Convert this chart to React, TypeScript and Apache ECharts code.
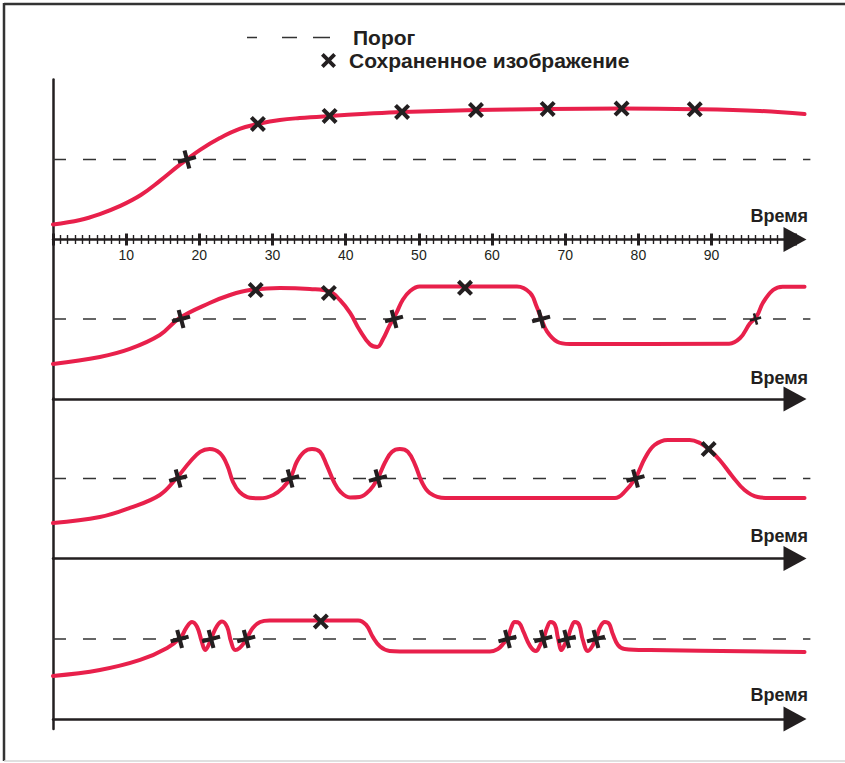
import React, { useEffect, useRef } from 'react';
import * as echarts from 'echarts';

// ---- data ----
const THRESHOLD = 50;
const THRESHOLD_SPAN = [0, 103.5];
const TIME_MIN = 0;
const TIME_MAX = 101.4; // end of the drawn time axis (arrow)
const TIME_DATA_MAX = 103.72; // curves run slightly past the arrow
const TIME_STEP = 10;

const SIGNAL_1 = [
  [0, 9.4], [3.7, 12.2], [6.4, 15.9], [9.2, 21], [12, 27.8], [14.6, 36.6], [17.3, 46.6],
  [20.1, 56], [22.8, 63.4], [25.5, 69.1], [28.3, 72.5], [31, 74.7], [33.7, 75.9],
  [37.8, 77.2], [42.8, 78.6], [47.7, 79.7], [57.8, 80.9], [67.6, 81.6], [77.7, 81.8],
  [87.7, 81.4], [96.6, 80.3], [102.7, 78.4],
];
const CROSS_1 = [[18.3, 50]];
const SAVED_1 = [[28, 72.2], [37.8, 77.2], [47.7, 79.7], [57.8, 80.9], [67.6, 81.6], [77.7, 81.8], [87.7, 81.4]];

const SIGNAL_2 = [
  [0, 21.9], [6.4, 26.3], [10.5, 31.3], [14.6, 40], [17.3, 50.6], [21.4, 60], [24.2, 65],
  [26.9, 68.1], [31, 69.4], [35.1, 68.8], [37.8, 67.3], [39.2, 61.9], [40.6, 53.8],
  [41.9, 43.1], [43.3, 34.2], [44.3, 32.5], [45.1, 37.5], [46, 46], [46.9, 53.5],
  [47.8, 62], [48.8, 67.5], [50.1, 70.3], [63.4, 70.3], [65.2, 66.3], [66.1, 57.7],
  [66.7, 50.6], [67.5, 42.3], [68.9, 35.8], [70.6, 34.4], [92.4, 34.6], [93.9, 38.1],
  [95.2, 47], [96.2, 52], [97, 60], [98.4, 68.1], [99.7, 70.2], [102.7, 70.2],
];
const CROSS_2 = [[17.5, 50], [46.6, 50], [66.7, 50]];
const CROSS_2_LATE = [[96, 50]];
const SAVED_2 = [[27.7, 68.1], [37.7, 66.3], [56.3, 69.5]];

const SIGNAL_3 = [
  [0, 22.2], [6.4, 25.9], [10.5, 31.6], [14.6, 39.7], [16.9, 50.3], [18.7, 60.3],
  [20.1, 66.6], [21.4, 68.4], [22.8, 65.9], [23.8, 58.4], [24.6, 47.8], [25.5, 41.6],
  [26.9, 38], [28.3, 37.6], [30.1, 39.7], [31.4, 44.1], [32.5, 50.9], [33.3, 60.3],
  [34.3, 66.6], [35.4, 68.4], [36.5, 66.6], [37.4, 58.4], [38.4, 47.8], [39.3, 41.6],
  [40.6, 38.1], [41.9, 38.4], [43.3, 42.8], [44.4, 50.3], [45.4, 60.3], [46.3, 66.6],
  [47.4, 68.4], [48.5, 66.6], [49.5, 58.4], [50.4, 47.8], [51.5, 40.9], [53.6, 37.8],
  [76.8, 37.8], [78.1, 41.6], [79.6, 50.3], [80.9, 62.8], [82.2, 70.9], [84, 74.1],
  [87, 74.1], [88.4, 72.2], [89.6, 68.4], [91.1, 61.6], [92.8, 51.6], [94.5, 42.8],
  [96.3, 38.4], [98, 37.8], [102.7, 37.8],
];
const CROSS_3 = [[17.1, 50], [32.4, 50], [44.4, 50], [79.6, 50]];
const SAVED_3 = [[89.6, 68.4]];

const SIGNAL_4 = [
  [0, 26.9], [6.4, 30.6], [11.9, 36.9], [15.6, 44.4], [17.5, 51.3], [18.2, 56.9],
  [19, 60.6], [19.7, 57.5], [20.3, 48.8], [20.8, 43.1], [21.2, 45.6], [21.7, 51.3],
  [22.4, 58.1], [23.1, 60.9], [23.8, 57.5], [24.3, 48.8], [24.9, 43.1], [25.5, 44.4],
  [26.1, 47.5], [26.6, 51.3], [27.3, 56.9], [28.3, 60.6], [29.6, 61.6], [41.7, 61.6],
  [42.8, 58.8], [43.7, 51.3], [44.7, 45.3], [46, 42.5], [47.4, 42.2], [59.7, 42.2],
  [60.8, 43.8], [61.5, 46.9], [62.2, 51.3], [62.6, 56.9], [63.1, 60.6], [63.7, 60],
  [64.3, 54.4], [65.2, 45.6], [66, 42.5], [66.5, 45.6], [67.1, 51.3], [67.5, 56.9],
  [68, 60.6], [68.6, 58.8], [69, 50.6], [69.5, 43.1], [69.9, 46.3], [70.4, 51.3],
  [70.8, 56.9], [71.3, 60.6], [71.9, 58.8], [72.4, 49.4], [73.1, 42.5], [73.8, 46.3],
  [74.3, 51.3], [74.7, 56.9], [75.4, 60.6], [76, 59.4], [76.5, 53.1], [77.2, 46.3],
  [78.1, 43.8], [81.6, 43.1], [102.7, 41.9],
];
const CROSS_4 = [[17.3, 50], [21.6, 50], [26.4, 50], [62.1, 50], [67, 50], [70.2, 50], [74.2, 50]];
const SAVED_4 = [[36.6, 61]];

const SIGNALS = [SIGNAL_1, SIGNAL_2, SIGNAL_3, SIGNAL_4];
const CROSSES = [CROSS_1, CROSS_2, CROSS_3, CROSS_4];
const SMALL_CROSSES = [[], CROSS_2_LATE, [], []];
const SAVED = [SAVED_1, SAVED_2, SAVED_3, SAVED_4];

const AXIS_NAME = 'Время';
const THRESHOLD_NAME = 'Порог';
const SAVED_NAME = 'Сохраненное изображение';

// ---- styling / layout ----
const FONT = "'Liberation Sans', Arial, Helvetica, sans-serif";
const INK = '#231f20';
const RED = '#e8204b';
const X_PATH = 'path://M1.8,0L5,3.2L8.2,0L10,1.8L6.8,5L10,8.2L8.2,10L5,6.8L1.8,10L0,8.2L3.2,5L0,1.8Z';
const DASH_PATH = 'path://M0,0h10v1.4h-10zM35,0h15v1.4h-15zM66,0h17v1.4h-17z';

const GRID_LEFT = 53;
const AXIS_RIGHT = 50;
const DATA_RIGHT = 33;
const GRID_TOPS = [79.5, 239, 398.5, 559];
const GRID_HEIGHTS = [160, 160, 160, 170];
const Y_MINS = [0, 0, 0, -6.25];
const NAME_PAD = [15, 12, 13.5, 15];
const N = GRID_TOPS.length;

function buildOption() {
  const grid = [
    ...GRID_TOPS.map((top, i) => ({ left: GRID_LEFT, right: AXIS_RIGHT, top, height: GRID_HEIGHTS[i] })),
    ...GRID_TOPS.map((top, i) => ({ left: GRID_LEFT, right: DATA_RIGHT, top, height: GRID_HEIGHTS[i] })),
  ];

  const xAxis: any[] = GRID_TOPS.map((_, i) => ({
    type: 'value',
    gridIndex: i,
    position: 'bottom',
    min: TIME_MIN,
    max: TIME_MAX,
    interval: TIME_STEP,
    axisLine: {
      show: true,
      onZero: true,
      symbol: ['none', 'triangle'],
      symbolSize: [25, 23],
      lineStyle: { color: INK, width: 2.5 },
    },
    axisTick: i === 0 ? { show: true, length: 6, lineStyle: { color: INK, width: 3 } } : { show: false },
    minorTick: i === 0
      ? { show: true, splitNumber: 10, length: 4.5, lineStyle: { color: INK, width: 1.4 } }
      : { show: false },
    axisLabel: i === 0
      ? {
          show: true, fontSize: 14, color: INK, fontFamily: FONT, margin: 8,
          formatter: (v: number) => (v <= TIME_MIN || v >= 100 ? '' : String(v)),
        }
      : { show: false },
    splitLine: { show: false },
    name: AXIS_NAME,
    nameLocation: 'end',
    nameGap: 13,
    nameTextStyle: {
      fontSize: 18, fontWeight: 'bold', color: INK, fontFamily: FONT,
      align: 'right', verticalAlign: 'bottom', padding: [0, 0, NAME_PAD[i], 0],
    },
  }));
  // index N: ticks of the top panel pointing upwards
  xAxis.push({
    type: 'value', gridIndex: 0, position: 'bottom', min: TIME_MIN, max: TIME_MAX, interval: TIME_STEP,
    axisLine: { show: false, onZero: false },
    axisTick: { show: true, inside: true, length: 6, lineStyle: { color: INK, width: 3 } },
    minorTick: { show: true, splitNumber: 10, length: 4.5, lineStyle: { color: INK, width: 1.4 } },
    axisLabel: { show: false },
    splitLine: { show: false },
  });
  // indices N+1 .. 2N: hidden data axes (same scale, slightly wider grid)
  GRID_TOPS.forEach((_, i) => {
    xAxis.push({
      type: 'value', gridIndex: N + i, show: false, min: TIME_MIN, max: TIME_DATA_MAX,
      splitLine: { show: false },
    });
  });

  const yAxis: any[] = GRID_TOPS.map((_, i) => ({
    type: 'value',
    gridIndex: i,
    min: Y_MINS[i],
    max: 100,
    axisLine: { show: true, onZero: true, lineStyle: { color: INK, width: 2.5 } },
    axisTick: { show: false },
    axisLabel: { show: false },
    splitLine: { show: false },
  }));
  GRID_TOPS.forEach((_, i) => {
    yAxis.push({
      type: 'value', gridIndex: N + i, show: false, min: Y_MINS[i], max: 100,
      splitLine: { show: false },
    });
  });

  const series: any[] = [];
  SIGNALS.forEach((sig, i) => {
    const xi = N + 1 + i;
    const yi = N + i;
    series.push({
      type: 'line', name: THRESHOLD_NAME, xAxisIndex: xi, yAxisIndex: yi,
      data: THRESHOLD_SPAN.map((x) => [x, THRESHOLD]),
      symbol: 'none', silent: true, z: 1, color: '#333',
      lineStyle: { color: '#333', width: 1.3, type: [13, 17] },
    });
    series.push({
      type: 'line', name: 'Сигнал', xAxisIndex: xi, yAxisIndex: yi,
      data: sig, smooth: 0.4, symbol: 'none', silent: true, z: 2,
      lineStyle: { color: RED, width: 4, cap: 'round', join: 'round' },
    });
    series.push({
      type: 'scatter', name: SAVED_NAME, xAxisIndex: xi, yAxisIndex: yi,
      data: CROSSES[i], symbol: X_PATH, symbolSize: 16, symbolRotate: 60, z: 3,
      itemStyle: { color: INK, opacity: 1 },
    });
    if (SMALL_CROSSES[i].length) {
      series.push({
        type: 'scatter', name: SAVED_NAME, xAxisIndex: xi, yAxisIndex: yi,
        data: SMALL_CROSSES[i], symbol: X_PATH, symbolSize: 10, symbolRotate: 60, z: 3,
        itemStyle: { color: INK, opacity: 1 },
      });
    }
    series.push({
      type: 'scatter', name: SAVED_NAME, xAxisIndex: xi, yAxisIndex: yi,
      data: SAVED[i], symbol: X_PATH, symbolSize: 16, z: 3,
      itemStyle: { color: INK, opacity: 1 },
    });
  });

  const legendText = { fontSize: 21, fontWeight: 'bold', color: INK, fontFamily: FONT };

  return {
    animation: false,
    backgroundColor: '#ffffff',
    grid,
    xAxis,
    yAxis,
    legend: [
      {
        data: [{ name: THRESHOLD_NAME, icon: DASH_PATH }],
        left: 247, top: 27, padding: 0, itemWidth: 83, itemHeight: 14,
        selectedMode: false,
        itemStyle: { color: '#333', borderWidth: 0 },
        textStyle: { ...legendText, padding: [0, 0, 0, 18] },
      },
      {
        data: [{ name: SAVED_NAME, icon: X_PATH }],
        left: 321, top: 50, padding: 0, itemWidth: 15, itemHeight: 15,
        selectedMode: false,
        itemStyle: { color: INK, borderWidth: 0, opacity: 1 },
        textStyle: { ...legendText, padding: [0, 0, 0, 8] },
      },
    ],
    graphic: [
      { type: 'line', shape: { x1: 4, y1: 4, x2: 845, y2: 4 }, style: { stroke: '#333', lineWidth: 2.5 }, silent: true },
      { type: 'line', shape: { x1: 4, y1: 3, x2: 4, y2: 761 }, style: { stroke: '#333', lineWidth: 2.5 }, silent: true },
      { type: 'line', shape: { x1: 4, y1: 761, x2: 845, y2: 761 }, style: { stroke: '#d6d6d6', lineWidth: 1.5 }, silent: true },
    ],
    series,
  };
}

export default function App() {
  const ref = useRef<HTMLDivElement>(null);
  useEffect(() => {
    if (!ref.current) return;
    const chart = echarts.init(ref.current, null, { renderer: 'svg' });
    chart.setOption(buildOption() as any);
    return () => chart.dispose();
  }, []);
  return (
    <div
      ref={ref}
      style={{ position: 'absolute', left: 0, top: 0, width: 845, height: 763, background: '#fff' }}
    />
  );
}
